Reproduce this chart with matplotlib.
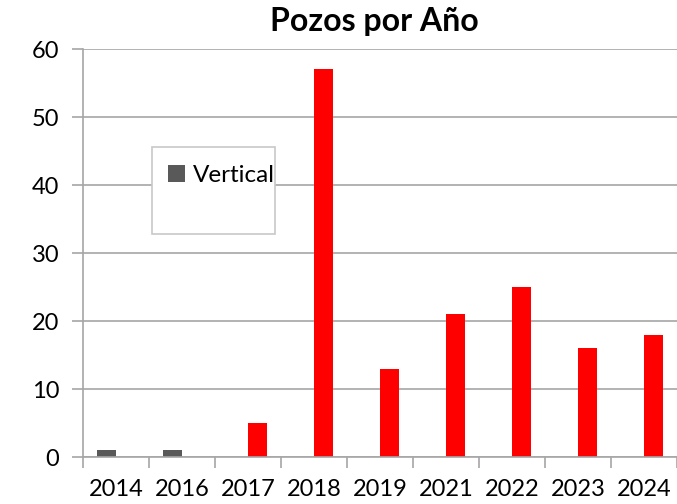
import matplotlib
matplotlib.use("Agg")
import matplotlib.pyplot as plt
from matplotlib.patches import Rectangle
import numpy as np

years = ["2014", "2016", "2017", "2018", "2019", "2021", "2022", "2023", "2024"]
vertical = [1, 1, 0, 0, 0, 0, 0, 0, 0]
horizontal = [0, 0, 5, 57, 13, 21, 25, 16, 18]

plt.rcParams['font.family'] = ['Lato', 'DejaVu Sans']

fig = plt.figure(figsize=(6.77, 5.04), dpi=100)
ax = fig.add_axes([83/677, 1-457/504, 1-83/677, (457-49)/504])

x = np.arange(len(years))
w = 0.283
ax.bar(x - w/2, vertical, width=w, color="#595959", label="Vertical", zorder=2)
ax.bar(x + w/2, horizontal, width=w, color="#ff0000", zorder=2)

ax.set_xlim(-0.5, len(years) - 0.5)
ax.set_ylim(0, 60)
ax.set_yticks(np.arange(0, 61, 10))
ax.yaxis.grid(True, color="#a6a6a6", linewidth=1.2, zorder=0)
ax.set_axisbelow(True)

ax.set_xticks(np.arange(-0.5, len(years), 1.0))
ax.set_xticklabels([])
ax.set_xticks(x, minor=True)
ax.set_xticklabels(years, minor=True)
ax.tick_params(axis='x', which='major', length=8, width=1.2, color="#a6a6a6", direction='out')
ax.tick_params(axis='x', which='minor', length=0, pad=16, labelsize=17)
ax.tick_params(axis='y', length=8, width=1.2, color="#a6a6a6", labelsize=17, pad=9)

for s in ["top", "right"]:
    ax.spines[s].set_visible(False)
for s in ["left", "bottom"]:
    ax.spines[s].set_color("#a6a6a6")
    ax.spines[s].set_linewidth(1.2)

fig.text(0.553, 1 - 22/504, "Pozos por Año", ha="center", va="center",
         fontsize=23, fontweight="bold")

rect = Rectangle((152/677, 1-234/504), 123/677, 87/504, transform=fig.transFigure,
                 facecolor="white", edgecolor="#c8c8c8", linewidth=1.2, zorder=5)
ax.add_patch(rect)
rect.set_clip_on(False)

leg = ax.legend(loc="upper left", bbox_to_anchor=(163/677, 1-160/504),
                bbox_transform=fig.transFigure, frameon=False, fontsize=17.5,
                handlelength=0.7, handleheight=0.7, handletextpad=0.35,
                borderaxespad=0, borderpad=0.2)
leg.set_zorder(6)

fig.savefig("out.png", dpi=100)
